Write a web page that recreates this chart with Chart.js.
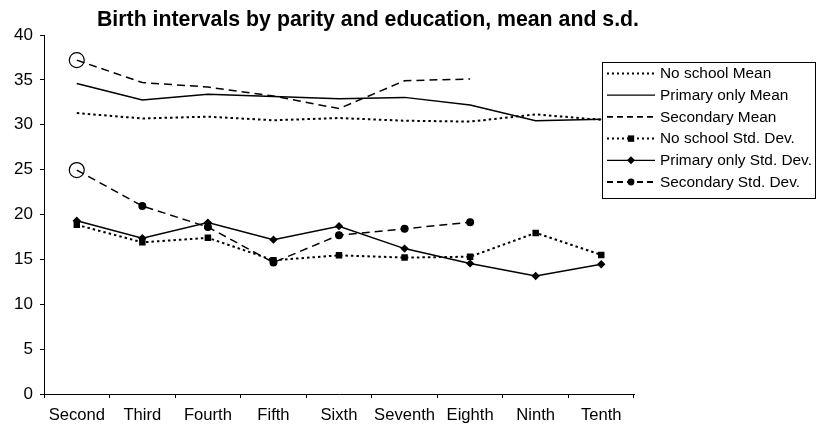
<!DOCTYPE html>
<html>
<head>
<meta charset="utf-8">
<script src="https://cdn.jsdelivr.net/npm/chart.js@4/dist/chart.umd.min.js"></script>
<style>
  html, body { margin: 0; padding: 0; background: #fff; }
  #wrap { width: 816px; height: 426px; position: relative; }
</style>
</head>
<body>
<div id="wrap"><canvas id="c" width="816" height="426"></canvas></div>
<script>
const chartTitle = "Birth intervals by parity and education, mean and s.d.";
const categories = ["Second", "Third", "Fourth", "Fifth", "Sixth", "Seventh", "Eighth", "Ninth", "Tenth"];
const yTicks = [0, 5, 10, 15, 20, 25, 30, 35, 40];

const noSchoolMean      = [31.3, 30.7, 30.9, 30.5, 30.75, 30.45, 30.35, 31.15, 30.55];
const primaryMean       = [34.6, 32.75, 33.4, 33.15, 32.9, 33.05, 32.2, 30.45, 30.6];
const secondaryMean     = [37.2, 34.7, 34.2, 33.2, 31.8, 34.9, 35.1, null, null];
const noSchoolSD        = [18.85, 16.9, 17.4, 14.9, 15.45, 15.2, 15.3, 17.95, 15.5];
const primarySD         = [19.3, 17.35, 19.1, 17.2, 18.7, 16.2, 14.55, 13.15, 14.45];
const secondarySD       = [24.95, 20.95, 18.6, 14.65, 17.7, 18.4, 19.15, null, null];

const seriesNames = ["No school Mean", "Primary only Mean", "Secondary Mean",
                     "No school Std. Dev.", "Primary only Std. Dev.", "Secondary Std. Dev."];

const DOT = [2.5, 3];
const DASH = [8, 5];
const FONT = "'Liberation Sans', Arial, sans-serif";

function firstOpen(arr, r0, r) { return arr.map((v, i) => i === 0 ? r0 : r); }
function firstOpenFill(arr) { return arr.map((v, i) => i === 0 ? 'rgba(0,0,0,0)' : '#000'); }

const datasets = [
  { label: seriesNames[0], data: noSchoolMean, borderColor: '#000', borderWidth: 2, borderDash: DOT, pointRadius: 0, pointHoverRadius: 0 },
  { label: seriesNames[1], data: primaryMean, borderColor: '#000', borderWidth: 1.5, pointRadius: 0, pointHoverRadius: 0 },
  { label: seriesNames[2], data: secondaryMean, borderColor: '#000', borderWidth: 1.5, borderDash: DASH,
    pointStyle: 'circle', pointRadius: firstOpen(secondaryMean, 7.5, 0), pointBorderWidth: 1.2,
    pointBorderColor: '#000', pointBackgroundColor: firstOpenFill(secondaryMean) },
  { label: seriesNames[3], data: noSchoolSD, borderColor: '#000', borderWidth: 2, borderDash: DOT,
    pointStyle: 'rect', pointRadius: 4.6, pointBorderWidth: 0, pointBackgroundColor: '#000', pointBorderColor: '#000' },
  { label: seriesNames[4], data: primarySD, borderColor: '#000', borderWidth: 1.5,
    pointStyle: 'rectRot', pointRadius: 4.2, pointBorderWidth: 0, pointBackgroundColor: '#000', pointBorderColor: '#000' },
  { label: seriesNames[5], data: secondarySD, borderColor: '#000', borderWidth: 1.5, borderDash: DASH,
    pointStyle: 'circle', pointRadius: firstOpen(secondarySD, 7.5, 3.4), pointBorderWidth: 1.2,
    pointBorderColor: '#000', pointBackgroundColor: firstOpenFill(secondarySD) }
];

const legendSamples = [
  { dash: [2, 3], width: 2, marker: null },
  { dash: [], width: 1.2, marker: null },
  { dash: [6, 4], width: 1.8, marker: null },
  { dash: [2, 3], width: 2, marker: 'rect' },
  { dash: [], width: 1.2, marker: 'rectRot' },
  { dash: [6, 4], width: 1.8, marker: 'circle' }
];

const extras = {
  id: 'extras',
  afterDraw(chart) {
    const ctx = chart.ctx;
    ctx.save();
    // title
    ctx.fillStyle = '#000';
    ctx.font = "bold 21.3px " + FONT;
    ctx.textAlign = 'center';
    ctx.textBaseline = 'alphabetic';
    ctx.fillText(chartTitle, 368, 26);
    // legend box
    const bx = 602.5, by = 62.5, bw = 213, bh = 136;
    ctx.fillStyle = '#fff';
    ctx.fillRect(bx, by, bw, bh);
    ctx.strokeStyle = '#000';
    ctx.lineWidth = 1;
    ctx.setLineDash([]);
    ctx.strokeRect(bx, by, bw, bh);
    ctx.font = "15.4px " + FONT;
    ctx.textAlign = 'left';
    ctx.textBaseline = 'middle';
    for (let i = 0; i < seriesNames.length; i++) {
      const y = 73.5 + i * 21.7;
      const s = legendSamples[i];
      ctx.strokeStyle = '#000';
      ctx.lineWidth = s.width;
      ctx.setLineDash(s.dash);
      ctx.beginPath();
      ctx.moveTo(607, y);
      ctx.lineTo(655, y);
      ctx.stroke();
      ctx.setLineDash([]);
      ctx.fillStyle = '#000';
      if (s.marker === 'rect') {
        ctx.fillRect(631 - 3.2, y - 3.2, 6.4, 6.4);
      } else if (s.marker === 'rectRot') {
        ctx.beginPath();
        ctx.moveTo(631, y - 4); ctx.lineTo(635, y); ctx.lineTo(631, y + 4); ctx.lineTo(627, y);
        ctx.closePath(); ctx.fill();
      } else if (s.marker === 'circle') {
        ctx.beginPath(); ctx.arc(631, y, 3.4, 0, Math.PI * 2); ctx.fill();
      }
      ctx.fillText(seriesNames[i], 660, y + 0.5);
    }
    ctx.restore();
  }
};

new Chart(document.getElementById('c'), {
  type: 'line',
  data: { labels: categories, datasets: datasets },
  options: {
    responsive: false,
    animation: false,
    devicePixelRatio: 1,
    layout: { padding: { top: 35, right: 182, left: 0, bottom: 0 } },
    plugins: { legend: { display: false }, title: { display: false }, tooltip: { enabled: false } },
    elements: { line: { tension: 0, fill: false } },
    scales: {
      x: {
        type: 'category',
        offset: true,
        grid: { display: true, drawOnChartArea: false, drawTicks: true, tickLength: 4, color: '#000', offset: true, lineWidth: 1 },
        border: { display: true, color: '#000', width: 1 },
        ticks: { color: '#000', font: { family: FONT, size: 16.6 }, padding: 7, maxRotation: 0, autoSkip: false },
        afterFit(scale) { scale.height = 32; }
      },
      y: {
        min: 0, max: 40,
        afterBuildTicks(scale) { scale.ticks = yTicks.map(v => ({ value: v })); },
        grid: { display: true, drawOnChartArea: false, drawTicks: true, tickLength: 4, color: '#000', lineWidth: 1 },
        border: { display: true, color: '#000', width: 1 },
        ticks: { color: '#000', font: { family: FONT, size: 17 }, padding: 7 },
        afterFit(scale) { scale.width = 44; }
      }
    }
  },
  plugins: [extras]
});
</script>
</body>
</html>
